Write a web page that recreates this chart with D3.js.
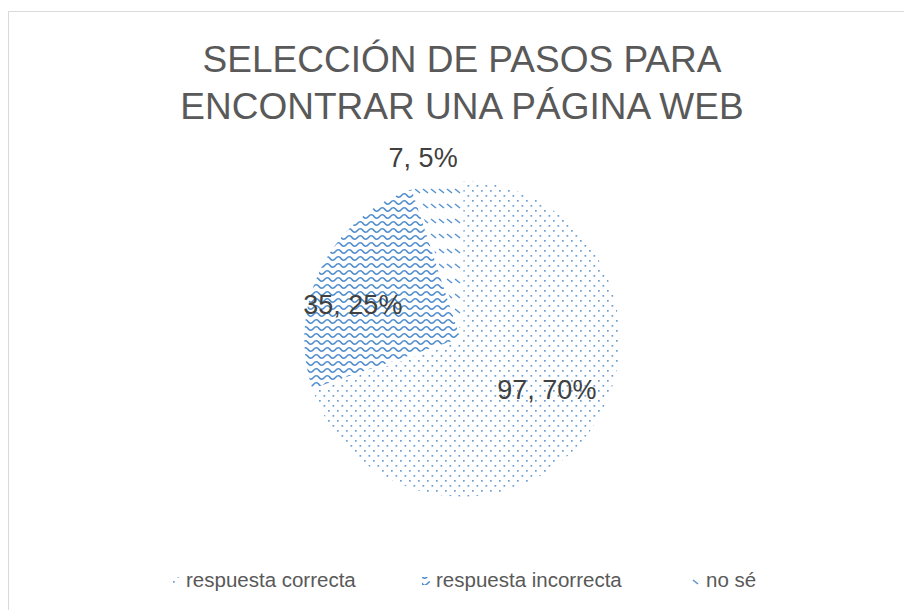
<!DOCTYPE html>
<html>
<head>
<meta charset="utf-8">
<script src="https://cdn.jsdelivr.net/npm/d3@7"></script>
<style>
  html, body { margin: 0; padding: 0; background: #ffffff; }
  svg { display: block; font-family: "Liberation Sans", Arial, sans-serif; }
</style>
</head>
<body>
<div id="chart"></div>
<script>
// chart data
var titleLines = ["SELECCIÓN DE PASOS PARA", "ENCONTRAR UNA PÁGINA WEB"];
var categories = ["respuesta correcta", "respuesta incorrecta", "no sé"];
var counts     = [97, 35, 7];
var percents   = ["70%", "25%", "5%"];

// layout
var width = 904, height = 610;
var cx = 462, cy = 339, radius = 159;
// label placement (fraction of radius, angle nudge in degrees) - mimics excel "best fit"
var labelPlace = [
    {r: 0.62, da: -5},
    {r: 0.72, da: -9},
    {r: 1.17, da: -3}
];

var svg = d3.select("#chart").append("svg")
    .attr("width", width)
    .attr("height", height);

svg.append("rect")
    .attr("width", width).attr("height", height)
    .attr("fill", "#ffffff");

// chart area border (right/bottom edges fall outside the picture)
svg.append("rect")
    .attr("x", 8.5).attr("y", 11.5)
    .attr("width", width).attr("height", height)
    .attr("fill", "none")
    .attr("stroke", "#d9d9d9")
    .attr("stroke-width", 1);

// pattern fills
var defs = svg.append("defs");

// small dots
var pDots = defs.append("pattern")
    .attr("id", "pat0").attr("patternUnits", "userSpaceOnUse")
    .attr("width", 9).attr("height", 10);
pDots.append("rect").attr("width", 9).attr("height", 10).attr("fill", "#ffffff");
[[1, 1], [5.5, 6]].forEach(function(p) {
    pDots.append("rect")
        .attr("x", p[0]).attr("y", p[1])
        .attr("width", 1.7).attr("height", 1.7)
        .attr("fill", "#6a9fd3");
});

// waves
var pWave = defs.append("pattern")
    .attr("id", "pat1").attr("patternUnits", "userSpaceOnUse")
    .attr("width", 11).attr("height", 7);
pWave.append("rect").attr("width", 11).attr("height", 7).attr("fill", "#ffffff");
pWave.append("path")
    .attr("d", "M-5.5,3.5 Q-2.75,0 0,3.5 T5.5,3.5 T11,3.5 T16.5,3.5")
    .attr("fill", "none")
    .attr("stroke", "#4f8dcd")
    .attr("stroke-width", 1.5);

// dashed downward diagonal
var pDash = defs.append("pattern")
    .attr("id", "pat2").attr("patternUnits", "userSpaceOnUse")
    .attr("width", 8).attr("height", 15)
    .attr("y", -4);
pDash.append("rect").attr("width", 8).attr("height", 15).attr("fill", "#ffffff");
pDash.append("path")
    .attr("d", "M1,4 L6,8")
    .attr("fill", "none")
    .attr("stroke", "#5b95d0")
    .attr("stroke-width", 1.6);

// title
var title = svg.append("text")
    .attr("text-anchor", "middle")
    .attr("fill", "#595959")
    .style("font-size", "37px");
titleLines.forEach(function(t, i) {
    title.append("tspan")
        .attr("x", cx)
        .attr("y", 72 + i * 47)
        .text(t);
});

// pie
var data = categories.map(function(c, i) {
    return {name: c, value: counts[i], pct: percents[i], idx: i};
});
var pie = d3.pie().sort(null).value(function(d) { return d.value; });
var arc = d3.arc().innerRadius(0).outerRadius(radius);
var arcs = pie(data);

var g = svg.append("g").attr("transform", "translate(" + cx + "," + cy + ")");
g.selectAll("path.slice")
    .data(arcs)
    .enter().append("path")
    .attr("class", "slice")
    .attr("d", arc)
    .attr("fill", function(d) { return "url(#pat" + d.data.idx + ")"; })
    .attr("stroke", "#ffffff")
    .attr("stroke-width", 2.5);

// data labels
g.selectAll("text.lbl")
    .data(arcs)
    .enter().append("text")
    .attr("class", "lbl")
    .attr("text-anchor", "middle")
    .attr("dy", "0.35em")
    .attr("fill", "#404040")
    .style("font-size", "27px")
    .attr("transform", function(d) {
        var lp = labelPlace[d.data.idx];
        var a = (d.startAngle + d.endAngle) / 2 + lp.da * Math.PI / 180;
        var r = radius * lp.r;
        return "translate(" + (r * Math.sin(a)) + "," + (-r * Math.cos(a)) + ")";
    })
    .text(function(d) { return d.data.value + ", " + d.data.pct; });

// legend
var legend = svg.append("g").attr("transform", "translate(0,580)");
var legX = d3.scaleOrdinal().domain(categories).range([172, 422, 692]);
var item = legend.selectAll("g.item")
    .data(data)
    .enter().append("g")
    .attr("class", "item")
    .attr("transform", function(d) { return "translate(" + legX(d.name) + ",0)"; });
item.append("rect")
    .attr("x", 0).attr("y", -3)
    .attr("width", 8).attr("height", 8)
    .attr("fill", function(d) { return "url(#pat" + d.idx + ")"; });
item.append("text")
    .attr("x", 14)
    .attr("dy", "0.35em")
    .attr("fill", "#595959")
    .style("font-size", "20.5px")
    .text(function(d) { return d.name; });
</script>
</body>
</html>
